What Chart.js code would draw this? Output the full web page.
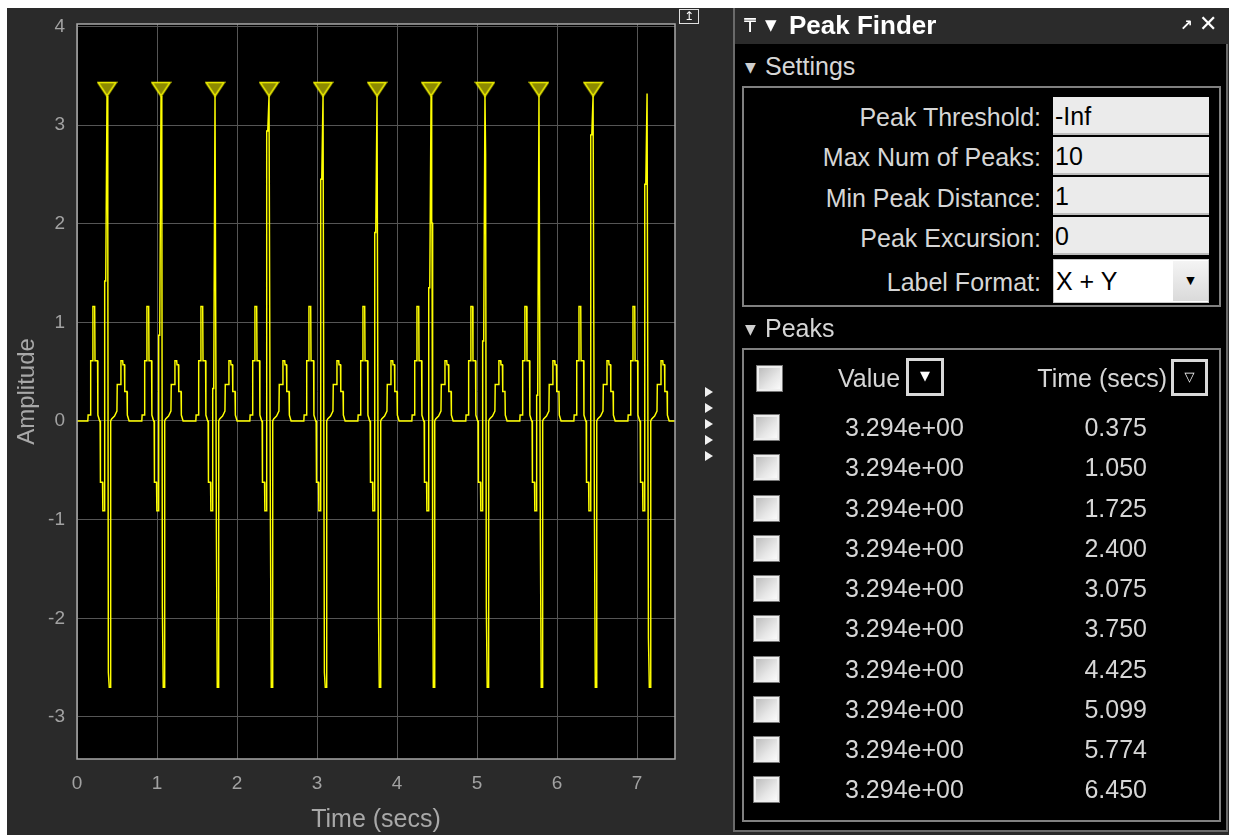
<!DOCTYPE html>
<html><head><meta charset="utf-8">
<script src="https://cdn.jsdelivr.net/npm/chart.js@4.4.1/dist/chart.umd.min.js"></script>
<style>
html,body{margin:0;padding:0;background:#fff;width:1233px;height:835px;overflow:hidden;font-family:"Liberation Sans",Arial,sans-serif;}
.abs{position:absolute;}
#fig{left:7px;top:8px;width:1222px;height:827px;background:#2a2a2a;}
#cv{left:7px;top:8px;}
#panel{left:733px;top:8px;width:495px;height:824px;background:#000;box-sizing:border-box;border-left:2px solid #6a6a6a;border-right:2px solid #6a6a6a;border-bottom:2px solid #6a6a6a;}
#titlebar{left:733px;top:8px;width:495px;height:36px;background:#2b2b2b;box-sizing:border-box;border-left:2px solid #6a6a6a;}
.t{color:#d6d6d6;font-size:25px;white-space:nowrap;}
.box{border:2px solid #808080;box-sizing:border-box;}
.inp{background:#ebebeb;border-bottom:2px solid #bdbdbd;box-sizing:border-box;color:#000;font-size:25px;padding-left:2px;white-space:nowrap;}
.cb{width:25px;height:25px;box-sizing:border-box;border:2px solid #eeeeee;background:linear-gradient(135deg,#bdbdbd 0%,#e6e6e6 60%,#fafafa 100%);box-shadow:0 0 0 1px #777;}
.btn{box-sizing:border-box;border:3px solid #d9d9d9;background:#000;color:#fff;text-align:center;}
</style></head>
<body>
<div id="fig" class="abs"></div>
<canvas id="cv" class="abs" width="720" height="827" style="width:720px;height:827px"></canvas>
<div class="abs" style="left:679px;top:9px;width:20px;height:15px;box-sizing:border-box;border:1px solid #e0e0e0;color:#fff;font-size:12px;line-height:13px;text-align:center;font-family:'DejaVu Sans'">&#x21A5;</div>
<div id="panel" class="abs"></div>
<div id="titlebar" class="abs"></div>
<div id="ui"></div>
<script>
// ---------------- data ----------------
// R-peak times of every heartbeat in the trace (s) and their heights
const beatTimes = [0.375, 1.050, 1.725, 2.400, 3.075, 3.750, 4.425, 5.099, 5.774, 6.450, 7.125];
const beatTops  = [3.294, 3.294, 3.294, 3.294, 3.294, 3.294, 3.294, 3.294, 3.294, 3.294, 3.32];
// intermediate samples on the R up-stroke / down-stroke / S down-stroke of each beat
const upMid   = [1.42, 0.87, 0.33, 2.94, 2.45, 1.91, 1.35, 0.81, 0.26, 2.90, 2.40];
const downMid = [1.93, 2.64, null, null, null, null, 2.01, 2.71, null, null, null];
const negMid  = [-2.55, -1.89, -1.11, -0.99, -2.55, -1.89, -1.35, -1.89, -1.11, -0.99, -2.20];
// shape of the trace around each R peak: [offset from R peak (s), amplitude]
const preR  = [[-0.240,0],[-0.236,0.06],[-0.208,0.06],[-0.204,0.61],[-0.180,0.61],[-0.176,1.16],[-0.154,1.16],[-0.150,0.61],[-0.118,0.61],[-0.114,0.06],[-0.092,0.0],[-0.086,0],[-0.082,-0.62],[-0.056,-0.62],[-0.052,-0.91],[-0.034,-0.91]];
const postR = [[0.028,-2.70],[0.041,-2.70],[0.046,0],[0.058,0.02],[0.094,0.05],[0.124,0.10],[0.128,0.37],[0.170,0.37],[0.174,0.61],[0.196,0.61],[0.200,0.57],[0.218,0.57],[0.222,0.30],[0.250,0.30],[0.254,0.06],[0.276,0]];
const traceStart = 0, traceEnd = 7.474;

// Peak finder results
const peakValues = [3.294, 3.294, 3.294, 3.294, 3.294, 3.294, 3.294, 3.294, 3.294, 3.294];
const peakTimes  = [0.375, 1.050, 1.725, 2.400, 3.075, 3.750, 4.425, 5.099, 5.774, 6.450];

// Settings
const settingLabels = ['Peak Threshold:', 'Max Num of Peaks:', 'Min Peak Distance:', 'Peak Excursion:', 'Label Format:'];
const settingValues = ['-Inf', '10', '1', '0', 'X + Y'];

// axes
const xMin = 0, xMax = 7.474, yMin = -3.426, yMax = 4.024;
const xTitle = 'Time (secs)', yTitle = 'Amplitude';

// ---------------- build trace ----------------
const trace = [{x: traceStart, y: 0}];
beatTimes.forEach((t, i) => {
  preR.forEach(p => trace.push({x: t + p[0], y: p[1]}));
  trace.push({x: t - 0.029, y: upMid[i]});
  trace.push({x: t - 0.016, y: upMid[i]});
  trace.push({x: t, y: beatTops[i]});
  if (downMid[i] !== null) { trace.push({x: t + 0.008, y: downMid[i]}); trace.push({x: t + 0.012, y: downMid[i]}); }
  trace.push({x: t + 0.017, y: negMid[i]});
  trace.push({x: t + 0.023, y: negMid[i]});
  postR.forEach(p => trace.push({x: t + p[0], y: p[1]}));
});
trace.push({x: traceEnd, y: 0});
const peaks = peakTimes.map((t, i) => ({x: t, y: peakValues[i]}));

// down-pointing marker whose tip sits on the peak
const mk = document.createElement('canvas');
mk.width = 21; mk.height = 30;
(() => {
  const c = mk.getContext('2d');
  c.beginPath(); c.moveTo(1.5, 1.5); c.lineTo(19.5, 1.5); c.lineTo(10.5, 15); c.closePath();
  c.fillStyle = '#8c8a00'; c.fill();
  c.lineWidth = 1.6; c.strokeStyle = '#f0f000'; c.stroke();
})();

const bgPlugin = {
  id: 'bg',
  beforeDraw(chart) {
    const a = chart.chartArea, c = chart.ctx;
    c.save(); c.fillStyle = '#000'; c.fillRect(a.left, a.top, a.right - a.left, a.bottom - a.top); c.restore();
  },
  afterDraw(chart) {
    const a = chart.chartArea, c = chart.ctx;
    c.save(); c.strokeStyle = '#a8a8a8'; c.lineWidth = 1.5;
    c.strokeRect(a.left, a.top, a.right - a.left, a.bottom - a.top); c.restore();
  }
};

new Chart(document.getElementById('cv'), {
  type: 'line',
  data: {
    datasets: [
      {data: trace, borderColor: '#ffff00', borderWidth: 1.45, pointRadius: 0, tension: 0, order: 2},
      {data: peaks, showLine: false, pointStyle: mk, pointRadius: 10, order: 1}
    ]
  },
  options: {
    responsive: false, animation: false, devicePixelRatio: 1,
    layout: {padding: {left: 0, top: 16, right: 52, bottom: 0}},
    plugins: {legend: {display: false}, tooltip: {enabled: false}},
    scales: {
      x: {
        type: 'linear', min: xMin, max: xMax,
        ticks: {stepSize: 1, includeBounds: false, color: '#a2a2a2', padding: 13, font: {family: 'Liberation Sans', size: 19}, maxRotation: 0},
        grid: {color: '#555555', lineWidth: 1, drawTicks: false},
        border: {display: false},
        title: {display: true, text: xTitle, color: '#a8a8a8', font: {family: 'Liberation Sans', size: 25}, padding: {top: 0, bottom: 0}},
        afterFit(s) { s.height = 76; s.paddingLeft = 0; s.paddingRight = 0; }
      },
      y: {
        type: 'linear', min: yMin, max: yMax,
        ticks: {stepSize: 1, includeBounds: false, color: '#a2a2a2', padding: 12, font: {family: 'Liberation Sans', size: 19}},
        grid: {color: '#555555', lineWidth: 1, drawTicks: false},
        border: {display: false},
        title: {display: true, text: yTitle, color: '#a8a8a8', font: {family: 'Liberation Sans', size: 24}, padding: {top: 6, bottom: 0}},
        afterFit(s) { s.width = 70; s.paddingTop = 0; s.paddingBottom = 0; }
      }
    }
  },
  plugins: [bgPlugin]
});

// ---------------- side panel ----------------
const ui = document.getElementById('ui');
function el(html) { ui.insertAdjacentHTML('beforeend', html); }
// small collapse arrows between plot and panel
[393, 409, 425, 441, 457].forEach(y => {
  el(`<div class="abs" style="left:705px;top:${y - 6}px;width:0;height:0;border-top:5px solid transparent;border-bottom:5px solid transparent;border-left:8px solid #f0f0f0"></div>`);
});
// title bar
el(`<div class="abs" style="left:744px;top:13px;color:#fff;font-size:19px;font-family:'DejaVu Sans';line-height:24px">&#x20B8;</div>`);
el(`<div class="abs" style="left:765px;top:13px;color:#fff;font-size:15px;font-family:'DejaVu Sans';line-height:24px">&#x25BC;</div>`);
el(`<div class="abs" style="left:789px;top:11px;color:#fff;font-size:26px;font-weight:bold;line-height:28px">Peak Finder</div>`);
el(`<div class="abs" style="left:1180px;top:14px;color:#fff;font-size:15px;font-weight:bold;font-family:'DejaVu Sans';line-height:22px">&#x2197;</div>`);
el(`<div class="abs" style="left:1199px;top:11px;color:#fff;font-size:22px;font-weight:bold;font-family:'DejaVu Sans';line-height:26px">&#x2715;</div>`);
// Settings
el(`<div class="abs" style="left:745px;top:57px;color:#cfcfcf;font-size:14px;font-family:'DejaVu Sans';line-height:20px">&#x25BC;</div>`);
el(`<div class="abs t" style="left:765px;top:52px;font-size:25px;line-height:28px">Settings</div>`);
el(`<div class="abs box" style="left:742px;top:86px;width:479px;height:221px"></div>`);
const rowTops = [97, 137, 177, 217];
settingLabels.forEach((lab, i) => {
  const cy = [117, 157, 198, 238, 282][i];
  el(`<div class="abs t" style="right:${1233 - 1041}px;top:${cy - 14}px;line-height:28px">${lab}</div>`);
  if (i < 4) {
    el(`<div class="abs inp" style="left:1053px;top:${rowTops[i]}px;width:156px;height:38px;line-height:38px">${settingValues[i]}</div>`);
  } else {
    el(`<div class="abs" style="left:1053px;top:259px;width:156px;height:44px;background:#fff;box-sizing:border-box;border:1px solid #c8c8c8;color:#000;font-size:25px;line-height:42px;padding-left:2px">${settingValues[i]}</div>`);
    el(`<div class="abs" style="left:1173px;top:261px;width:35px;height:40px;background:linear-gradient(#f4f4f4,#dadada);color:#000;font-size:11px;font-family:'DejaVu Sans';line-height:40px;text-align:center">&#x25BC;</div>`);
  }
});
// Peaks
el(`<div class="abs" style="left:745px;top:319px;color:#cfcfcf;font-size:14px;font-family:'DejaVu Sans';line-height:20px">&#x25BC;</div>`);
el(`<div class="abs t" style="left:765px;top:314px;font-size:25px;line-height:28px">Peaks</div>`);
el(`<div class="abs box" style="left:742px;top:348px;width:479px;height:474px"></div>`);
el(`<div class="abs cb" style="left:757px;top:366px"></div>`);
el(`<div class="abs t" style="left:838px;top:364px;line-height:28px">Value</div>`);
el(`<div class="abs btn" style="left:906px;top:358px;width:38px;height:38px;font-size:13px;line-height:30px;font-family:'DejaVu Sans'">&#x25BC;</div>`);
el(`<div class="abs t" style="right:${1233 - 1167}px;top:364px;line-height:28px">Time (secs)</div>`);
el(`<div class="abs btn" style="left:1171px;top:359px;width:37px;height:37px;font-size:13px;line-height:29px;font-family:'DejaVu Sans'">&#x25BD;</div>`);
function fmtExp(v) {
  const parts = v.toExponential(3).split('e');
  const n = parseInt(parts[1], 10);
  return parts[0] + 'e' + (n < 0 ? '-' : '+') + String(Math.abs(n)).padStart(2, '0');
}
peakValues.forEach((v, i) => {
  const cy = 427 + 40.25 * i;
  el(`<div class="abs cb" style="left:754px;top:${cy - 12}px"></div>`);
  el(`<div class="abs t" style="left:845px;top:${cy - 14}px;line-height:28px">${fmtExp(v)}</div>`);
  el(`<div class="abs t" style="right:${1233 - 1147}px;top:${cy - 14}px;line-height:28px">${peakTimes[i].toFixed(3)}</div>`);
});
</script>
</body></html>
